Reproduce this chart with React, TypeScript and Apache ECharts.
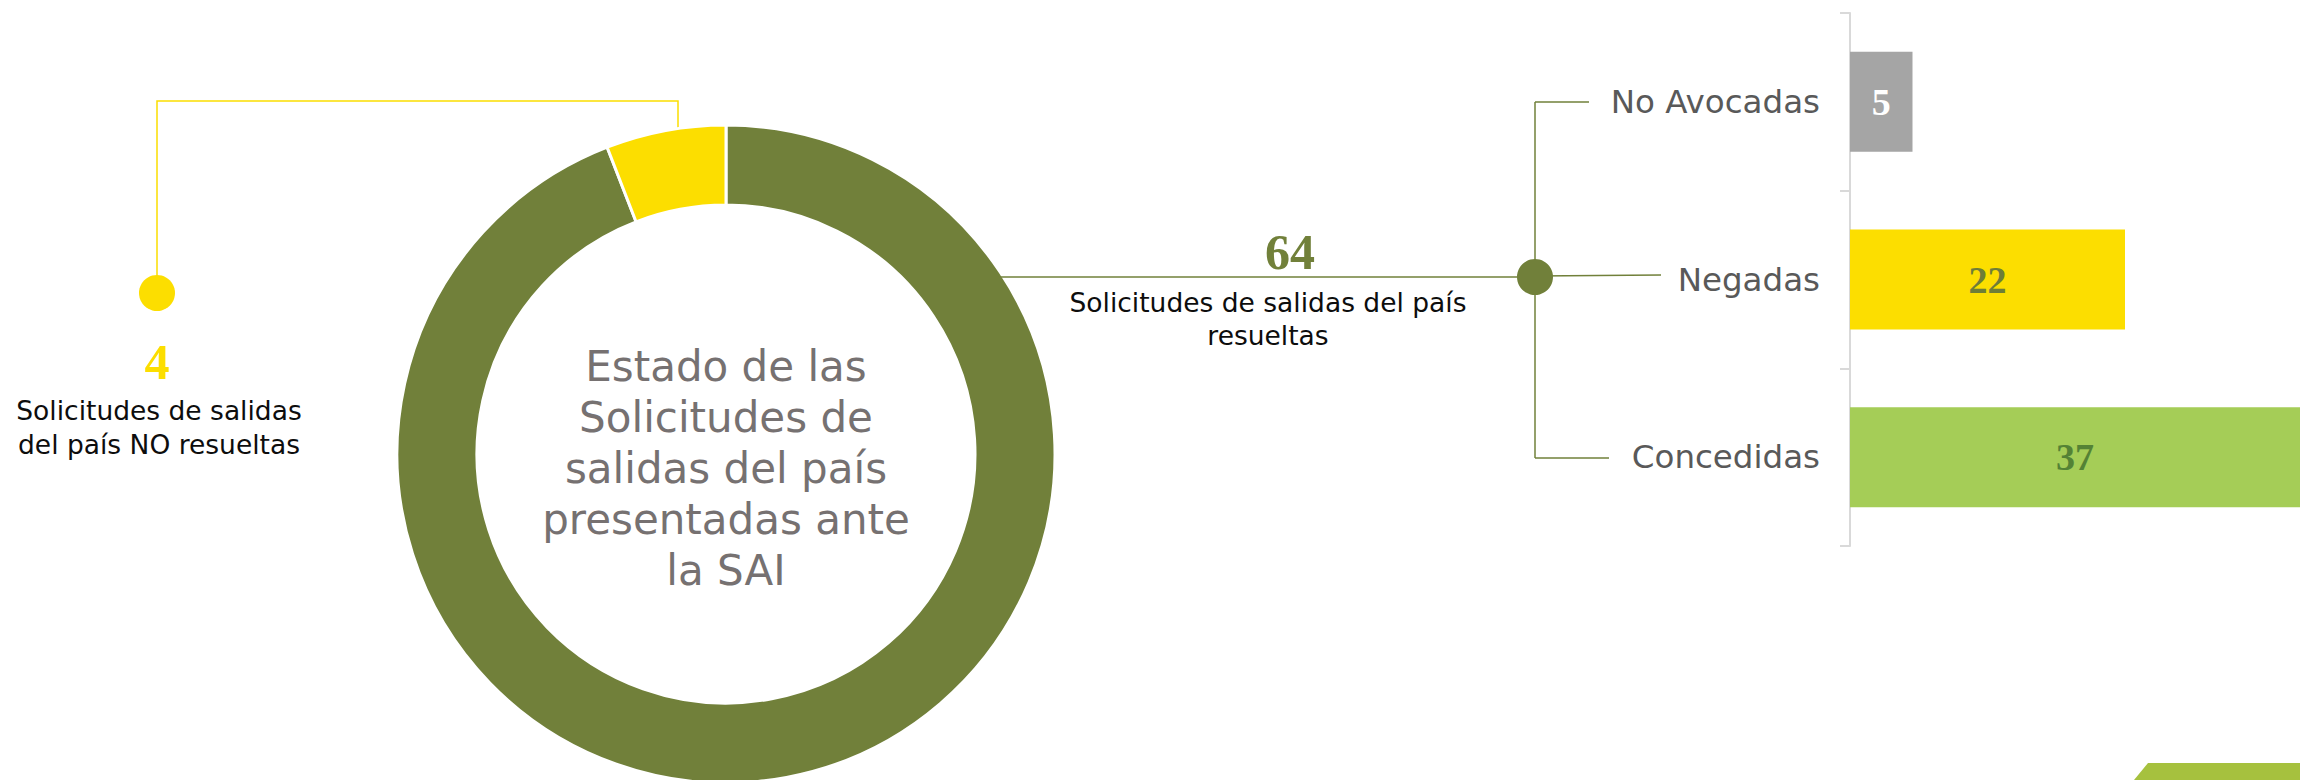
import React, { useEffect, useRef } from "react";
import * as echarts from "echarts";

const pieNames = [
  "Solicitudes de salidas del país resueltas",
  "Solicitudes de salidas del país NO resueltas",
];
const pieValues = [64, 4];
const barCategories = ["No Avocadas", "Negadas", "Concedidas"];
const barValues = [5, 22, 37];

const OLIVE = "#71803A";
const YELLOW = "#FCDE00";
const pieColors = [OLIVE, YELLOW];
const barColors = ["#A5A5A5", YELLOW, "#A5CD57"];
const barLabelColors = ["#FFFFFF", "#6E7D38", "#548235"];
const SANS = "DejaVu Sans";
const SERIF = "Liberation Serif";

function txt(x: number, y: number, text: string, size: number, color: string, family: string, bold = false, lineHeight?: number) {
  return {
    type: "text",
    x,
    y,
    silent: true,
    z: 10,
    style: {
      text,
      fill: color,
      fontSize: size,
      fontFamily: family,
      fontWeight: bold ? "bold" : "normal",
      lineHeight: lineHeight || Math.round(size * 1.2),
      textAlign: "center",
      textVerticalAlign: "middle",
      align: "center",
      verticalAlign: "middle",
    },
  };
}

function ln(x1: number, y1: number, x2: number, y2: number, color: string) {
  return {
    type: "line",
    silent: true,
    z: 5,
    shape: { x1, y1, x2, y2 },
    style: { stroke: color, lineWidth: 1.5 },
  };
}

export default function App() {
  const ref = useRef<HTMLDivElement>(null);
  useEffect(() => {
    document.body.style.margin = "0";
    if (!ref.current) return;
    const chart = echarts.init(ref.current, null, { renderer: "svg" });
    const option: any = {
      animation: false,
      backgroundColor: "#FFFFFF",
      grid: { left: 1850, top: 13, width: 450, height: 533, containLabel: false },
      xAxis: {
        type: "value",
        min: 0,
        max: 36,
        show: false,
        splitLine: { show: false },
      },
      yAxis: {
        type: "category",
        data: barCategories,
        inverse: true,
        axisLine: { show: true, lineStyle: { color: "#D9D9D9", width: 2 } },
        axisTick: { show: true, length: 10, inside: false, lineStyle: { color: "#D9D9D9", width: 2 } },
        axisLabel: { color: "#595959", fontSize: 32.5, fontFamily: SANS, margin: 30 },
        splitLine: { show: false },
      },
      series: [
        {
          type: "pie",
          center: [726, 454],
          radius: [249, 329],
          startAngle: 90,
          clockwise: true,
          label: { show: false },
          labelLine: { show: false },
          silent: true,
          itemStyle: { borderColor: "#FFFFFF", borderWidth: 3 },
          data: pieValues.map((v, i) => ({
            name: pieNames[i],
            value: v,
            itemStyle: { color: pieColors[i] },
          })),
          z: 3,
        },
        {
          type: "bar",
          barWidth: 100,
          silent: true,
          data: barValues.map((v, i) => ({
            value: v,
            itemStyle: { color: barColors[i] },
            label: { color: barLabelColors[i] },
          })),
          label: {
            show: true,
            position: "inside",
            fontFamily: SERIF,
            fontWeight: "bold",
            fontSize: 38,
          },
        },
      ],
      graphic: {
        elements: [
          // NO resueltas annotation (left)
          {
            type: "polyline",
            silent: true,
            z: 1,
            shape: { points: [[678, 132], [678, 101], [157, 101], [157, 280]] },
            style: { stroke: YELLOW, lineWidth: 1.5, fill: null },
          },
          { type: "circle", silent: true, z: 5, shape: { cx: 157, cy: 293, r: 18 }, style: { fill: YELLOW } },
          txt(157, 362, String(pieValues[1]), 50, YELLOW, SERIF, true),
          txt(159, 427, "Solicitudes de salidas\ndel país NO resueltas", 26.5, "#0D0D0D", SANS, false, 34),
          // resueltas annotation (middle)
          ln(1001, 277, 1535, 277, OLIVE),
          txt(1290, 252, String(pieValues[0]), 50, OLIVE, SERIF, true),
          txt(1268, 319, "Solicitudes de salidas del país\nresueltas", 26.5, "#0D0D0D", SANS, false, 33),
          ln(1535, 102, 1535, 458, OLIVE),
          ln(1535, 102, 1589, 102, OLIVE),
          ln(1535, 276, 1661, 275, OLIVE),
          ln(1535, 458, 1609, 458, OLIVE),
          { type: "circle", silent: true, z: 6, shape: { cx: 1535, cy: 277, r: 18 }, style: { fill: OLIVE } },
          // donut centre title
          txt(726, 468, "Estado de las\nSolicitudes de\nsalidas del país\npresentadas ante\nla SAI", 42, "#767171", SANS, false, 51),
          // corner decoration
          {
            type: "polygon",
            silent: true,
            z: 1,
            shape: { points: [[2148, 763], [2300, 763], [2300, 780], [2134, 780]] },
            style: { fill: "#A6C13E" },
          },
        ],
      },
    };
    chart.setOption(option);
    return () => chart.dispose();
  }, []);
  return <div ref={ref} style={{ width: 2300, height: 780 }} />;
}
